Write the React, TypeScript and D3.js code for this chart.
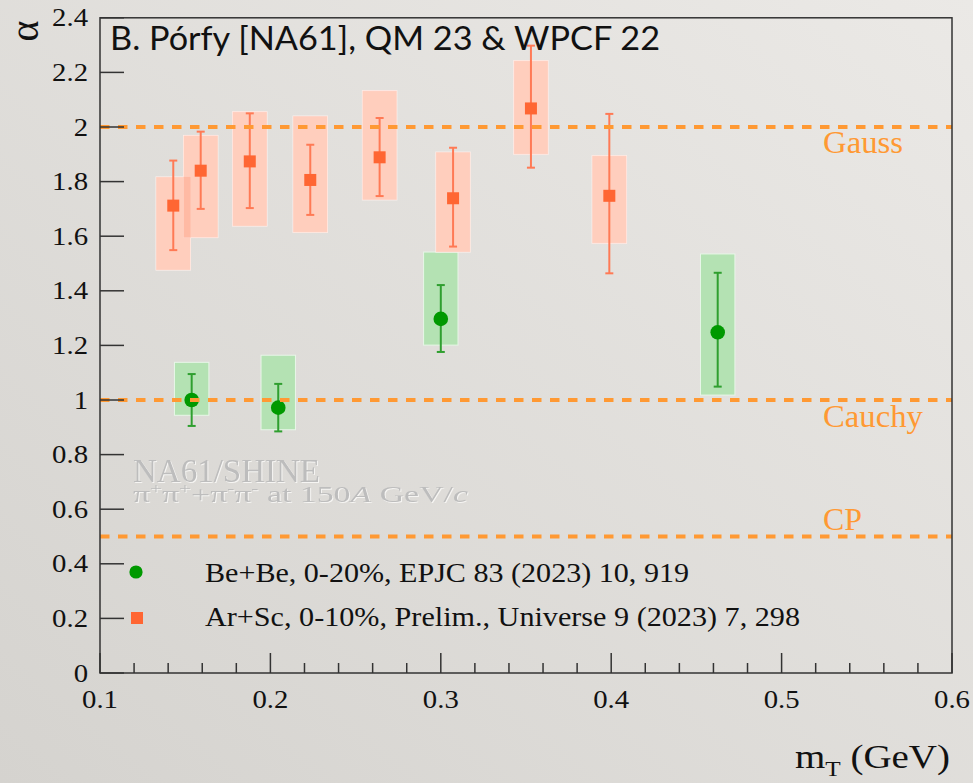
import React from "react";
import * as d3 from "d3";

const W = 973;
const H = 783;

// Ar+Sc, 0-10%, preliminary
const arX = [0.143, 0.1591, 0.1879, 0.2234, 0.2641, 0.3072, 0.3529, 0.3989];
const arY = [1.712, 1.84, 1.874, 1.806, 1.889, 1.739, 2.068, 1.748];
const arErrHi = [1.877, 1.983, 2.05, 1.935, 2.033, 1.924, 2.298, 2.048];
const arErrLo = [1.549, 1.7, 1.703, 1.678, 1.747, 1.562, 1.851, 1.464];
const arSysHi = [1.817, 1.969, 2.056, 2.04, 2.133, 1.908, 2.243, 1.895];
const arSysLo = [1.476, 1.595, 1.637, 1.614, 1.733, 1.542, 1.9, 1.574];

// Be+Be, 0-20%
const beX = [0.1538, 0.2046, 0.3, 0.4625];
const beY = [1.0, 0.972, 1.297, 1.248];
const beErrHi = [1.095, 1.059, 1.421, 1.466];
const beErrLo = [0.905, 0.885, 1.176, 1.049];
const beSysHi = [1.138, 1.164, 1.542, 1.535];
const beSysLo = [0.944, 0.891, 1.201, 1.018];

const sysHalfWidth = 0.0101;

const refLevels = [2.0, 1.0, 0.5];
const refLabels = ["Gauss", "Cauchy", "CP"];

const xTicks = [0.1, 0.2, 0.3, 0.4, 0.5, 0.6];
const yTicks = [0, 0.2, 0.4, 0.6, 0.8, 1, 1.2, 1.4, 1.6, 1.8, 2, 2.2, 2.4];
const yTickLabels = ["0", "0.2", "0.4", "0.6", "0.8", "1", "1.2", "1.4", "1.6", "1.8", "2", "2.2", "2.4"];

const legendLabels = [
  "Be+Be, 0-20%, EPJC 83 (2023) 10, 919",
  "Ar+Sc, 0-10%, Prelim., Universe 9 (2023) 7, 298",
];

const SERIF = "'Liberation Serif', 'Times New Roman', serif";

export default function App() {
  const x = d3.scaleLinear().domain([0.1, 0.6]).range([100, 952]);
  const y = d3.scaleLinear().domain([0, 2.4]).range([673, 17.8]);
  const minorX = d3.range(0.1, 0.6001, 0.02);
  const x0 = x(0.1), x1 = x(0.6), y0 = y(0), y1 = y(2.4);
  const labelX = [823, 823, 823];
  const labelLen = [80, 100, 39];
  const labelBase = [153, 427, 530];

  return (
    <svg width={W} height={H} style={{ position: "absolute", left: 0, top: 0, display: "block" }}>
      <defs>
        <linearGradient id="bg" x1="0" y1="1" x2="1" y2="0">
          <stop offset="0" stopColor="#d5d3cf" />
          <stop offset="1" stopColor="#ebe9e6" />
        </linearGradient>
        <filter id="emboss" x="-5%" y="-20%" width="110%" height="140%">
          <feFlood floodColor="#f6f5f3" result="c" />
          <feOffset in="SourceAlpha" dx={1.2} dy={1.2} result="o" />
          <feComposite in="c" in2="o" operator="in" result="s" />
          <feMerge>
            <feMergeNode in="s" />
            <feMergeNode in="SourceGraphic" />
          </feMerge>
        </filter>
      </defs>
      <rect x={0} y={0} width={W} height={H} fill="url(#bg)" />

      {/* Be+Be systematic boxes */}
      {beX.map((v, i) => (
        <rect key={"bs" + i} x={x(v - sysHalfWidth)} y={y(beSysHi[i])}
          width={x(v + sysHalfWidth) - x(v - sysHalfWidth)} height={y(beSysLo[i]) - y(beSysHi[i])}
          fill="#b4e2b3" stroke="#e8f6e8" strokeWidth={1} />
      ))}
      {/* Ar+Sc systematic boxes */}
      {arX.map((v, i) => (
        <rect key={"as" + i} x={x(v - sysHalfWidth)} y={y(arSysHi[i])}
          width={x(v + sysHalfWidth) - x(v - sysHalfWidth)} height={y(arSysLo[i]) - y(arSysHi[i])}
          fill="#ffe6dd" stroke="#fff2ee" strokeWidth={1} />
      ))}
      {arX.map((v, i) => (
        <rect key={"at" + i} x={x(v - sysHalfWidth)} y={y(arSysHi[i])}
          width={x(v + sysHalfWidth) - x(v - sysHalfWidth)} height={y(arSysLo[i]) - y(arSysHi[i])}
          fill="#ff7040" fillOpacity={0.2} />
      ))}

      {/* error bars */}
      {arX.map((v, i) => (
        <g key={"ae" + i} stroke="#ff7a55" strokeWidth={2}>
          <line x1={x(v)} x2={x(v)} y1={y(arErrHi[i])} y2={y(arErrLo[i])} />
          <line x1={x(v) - 4} x2={x(v) + 4} y1={y(arErrHi[i])} y2={y(arErrHi[i])} />
          <line x1={x(v) - 4} x2={x(v) + 4} y1={y(arErrLo[i])} y2={y(arErrLo[i])} />
        </g>
      ))}
      {beX.map((v, i) => (
        <g key={"be" + i} stroke="#2f9f2f" strokeWidth={2}>
          <line x1={x(v)} x2={x(v)} y1={y(beErrHi[i])} y2={y(beErrLo[i])} />
          <line x1={x(v) - 4} x2={x(v) + 4} y1={y(beErrHi[i])} y2={y(beErrHi[i])} />
          <line x1={x(v) - 4} x2={x(v) + 4} y1={y(beErrLo[i])} y2={y(beErrLo[i])} />
        </g>
      ))}

      {/* markers */}
      {arX.map((v, i) => (
        <rect key={"am" + i} x={x(v) - 6} y={y(arY[i]) - 6} width={12} height={12} fill="#ff6633" />
      ))}
      {beX.map((v, i) => (
        <circle key={"bm" + i} cx={x(v)} cy={y(beY[i])} r={7.3} fill="#009900" />
      ))}

      {/* reference lines */}
      {refLevels.map((lv, i) => (
        <g key={"rl" + i}>
          <line x1={x0} x2={x1} y1={y(lv)} y2={y(lv)} stroke="#ff9933" strokeWidth={4} strokeDasharray="9.5 8.5" />
          <text x={labelX[i]} y={labelBase[i]} fontFamily={SERIF} fontSize={31} fill="#ff9933"
            textLength={labelLen[i]} lengthAdjust="spacingAndGlyphs">{refLabels[i]}</text>
        </g>
      ))}

      {/* frame */}
      <rect x={x0} y={y1} width={x1 - x0} height={y0 - y1} fill="none" stroke="#333" strokeWidth={1.5} />
      {yTicks.map((t, i) => (
        <line key={"yt" + i} x1={x0} x2={x0 + 24} y1={y(t)} y2={y(t)} stroke="#333" strokeWidth={1.5} />
      ))}
      {minorX.map((t, i) => {
        const major = Math.abs(t * 10 - Math.round(t * 10)) < 1e-6;
        return (
          <line key={"xt" + i} x1={x(t)} x2={x(t)} y1={y0} y2={y0 - (major ? 20 : 10)} stroke="#333" strokeWidth={1.5} />
        );
      })}

      {/* tick labels */}
      {yTicks.map((t, i) => (
        <text key={"yl" + i} transform={`translate(88,${y(t) + 8.5}) scale(1.15,1)`} textAnchor="end"
          fontFamily={SERIF} fontSize={25} fill="#111">{yTickLabels[i]}</text>
      ))}
      {xTicks.map((t, i) => (
        <text key={"xl" + i} transform={`translate(${x(t)},708) scale(1.15,1)`} textAnchor="middle"
          fontFamily={SERIF} fontSize={25} fill="#111">{String(t)}</text>
      ))}

      {/* axis titles */}
      <text transform="translate(24,31) rotate(-90)" textAnchor="middle" dominantBaseline="central"
        fontFamily={SERIF} fontSize={40} fill="#111">α</text>
      <text x={795} y={768} fontFamily={SERIF} fontSize={34} fill="#111" textLength={155} lengthAdjust="spacingAndGlyphs">
        m<tspan fontSize={22} dy={8}>T</tspan><tspan dy={-8}> (GeV)</tspan>
      </text>

      {/* title */}
      <text x={110} y={50} fontFamily="Lato, 'Open Sans', sans-serif" fontSize={32} fill="#111"
        textLength={550} lengthAdjust="spacingAndGlyphs">B. Pórfy [NA61], QM 23 &amp; WPCF 22</text>

      {/* experiment label */}
      <g fontFamily={SERIF} filter="url(#emboss)">
        <text x={133} y={482} fontSize={33} fill="#bdbdbd" textLength={187} lengthAdjust="spacingAndGlyphs">NA61/SHINE</text>
        <text x={133} y={502} fontSize={24} fill="#bdbdbd" textLength={335} lengthAdjust="spacingAndGlyphs">
          π<tspan fontSize={15} dy={-9}>+</tspan><tspan dy={9}>π</tspan><tspan fontSize={15} dy={-9}>+</tspan><tspan dy={9}>+π</tspan><tspan fontSize={15} dy={-9}>-</tspan><tspan dy={9}>π</tspan><tspan fontSize={15} dy={-9}>-</tspan><tspan dy={9}> at 150</tspan><tspan fontStyle="italic">A</tspan><tspan> GeV/</tspan><tspan fontStyle="italic">c</tspan>
        </text>
      </g>

      {/* legend */}
      <circle cx={136} cy={572} r={6.6} fill="#009900" />
      <rect x={131} y={612} width={12} height={12} fill="#ff6633" />
      <text x={205} y={582} fontFamily={SERIF} fontSize={27} fill="#111" textLength={484} lengthAdjust="spacingAndGlyphs">{legendLabels[0]}</text>
      <text x={205} y={626} fontFamily={SERIF} fontSize={27} fill="#111" textLength={595} lengthAdjust="spacingAndGlyphs">{legendLabels[1]}</text>
    </svg>
  );
}
